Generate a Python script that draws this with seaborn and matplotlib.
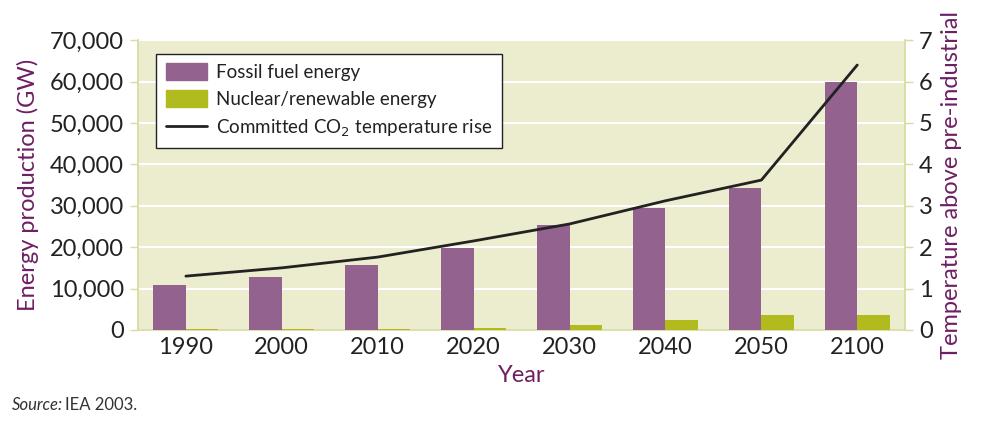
import pandas as pd
import matplotlib.pyplot as plt
import seaborn as sns
from matplotlib.patches import Patch

# data
years = ['1990', '2000', '2010', '2020', '2030', '2040', '2050', '2100']
fossil_gw = [10900, 12800, 15700, 19800, 25400, 29500, 34300, 59800]
nuclear_gw = [200, 200, 200, 500, 1200, 2400, 3600, 3600]
temp_rise = [1.3, 1.5, 1.76, 2.15, 2.56, 3.12, 3.62, 6.4]

fossil_col = '#93628F'
nuclear_col = '#B2BB1E'
label_col = '#6E1F63'
bg_col = '#ECECCE'
tick_col = '#D9DBA0'
text_col = '#222222'

df = pd.DataFrame({'Year': years * 2,
                   'GW': fossil_gw + nuclear_gw,
                   'Type': ['Fossil fuel energy'] * len(years) + ['Nuclear/renewable energy'] * len(years)})

sns.set_theme(style='white')
plt.rcParams['font.family'] = ['Lato', 'DejaVu Sans']

fig, ax = plt.subplots(figsize=(9.85, 4.23), dpi=100)
fig.subplots_adjust(left=0.14, right=0.919, top=0.905, bottom=0.22)

sns.barplot(data=df, x='Year', y='GW', hue='Type', palette=[fossil_col, nuclear_col],
            width=0.68, gap=0, ax=ax, zorder=3, legend=False, linewidth=0, saturation=1)
ax.set_facecolor(bg_col)
ax.set_ylim(0, 70000)
ax.set_xlim(-0.5, len(years) - 0.5)
ax.set_yticks(range(0, 70001, 10000))
ax.set_yticklabels([f'{v:,}' for v in range(0, 70001, 10000)])
ax.yaxis.grid(True, color='white', linewidth=1.5, zorder=0)
ax.set_axisbelow(True)

# category separators as minor ticks
ax.set_xticks([i - 0.5 for i in range(len(years) + 1)], minor=True)
ax.tick_params(axis='x', which='minor', length=22, color=tick_col, width=1)
ax.tick_params(axis='x', which='major', length=0, labelsize=17, pad=5, labelcolor=text_col)
ax.tick_params(axis='y', length=6, color=tick_col, width=1, labelsize=17, left=True,
               labelcolor=text_col, pad=4)
for s in ['top', 'right']:
    ax.spines[s].set_visible(False)
for s in ['left', 'bottom']:
    ax.spines[s].set_color(tick_col)

ax.set_xlabel('Year', fontsize=17, color=label_col, labelpad=0)
ax.set_ylabel('Energy production (GW)', fontsize=17, color=label_col, labelpad=8)

ax2 = ax.twinx()
line, = ax2.plot(range(len(years)), temp_rise, color='#222222', linewidth=2, zorder=4,
                 label='Committed CO$_2$ temperature rise')
ax2.set_ylim(0, 7)
ax2.set_yticks(range(0, 8))
ax2.tick_params(axis='y', length=6, color=tick_col, width=1, labelsize=17, right=True, pad=4,
                labelcolor=text_col)
for s in ['top', 'left', 'bottom']:
    ax2.spines[s].set_visible(False)
ax2.spines['right'].set_color(tick_col)
ax2.set_ylabel('Temperature above pre-industrial', fontsize=17, color=label_col, labelpad=6)

handles = [Patch(color=fossil_col, label='Fossil fuel energy'),
           Patch(color=nuclear_col, label='Nuclear/renewable energy'),
           line]
leg = ax2.legend(handles=handles, loc='upper left', bbox_to_anchor=(0.012, 0.985),
                 fontsize=13.5, frameon=True, fancybox=False, edgecolor='#222222',
                 handlelength=2.2, handleheight=1.0, borderpad=0.5, labelspacing=0.5,
                 handletextpad=0.5)
leg.get_frame().set_linewidth(1)
leg.get_frame().set_facecolor('white')
leg.get_frame().set_alpha(1)
for t in leg.get_texts():
    t.set_color(text_col)

fig.text(0.012, 0.03, 'Source:', fontsize=12, style='italic', color='#333333')
fig.text(0.066, 0.03, 'IEA 2003.', fontsize=12, color='#333333')

fig.savefig('out.png', dpi=100, facecolor='white')
